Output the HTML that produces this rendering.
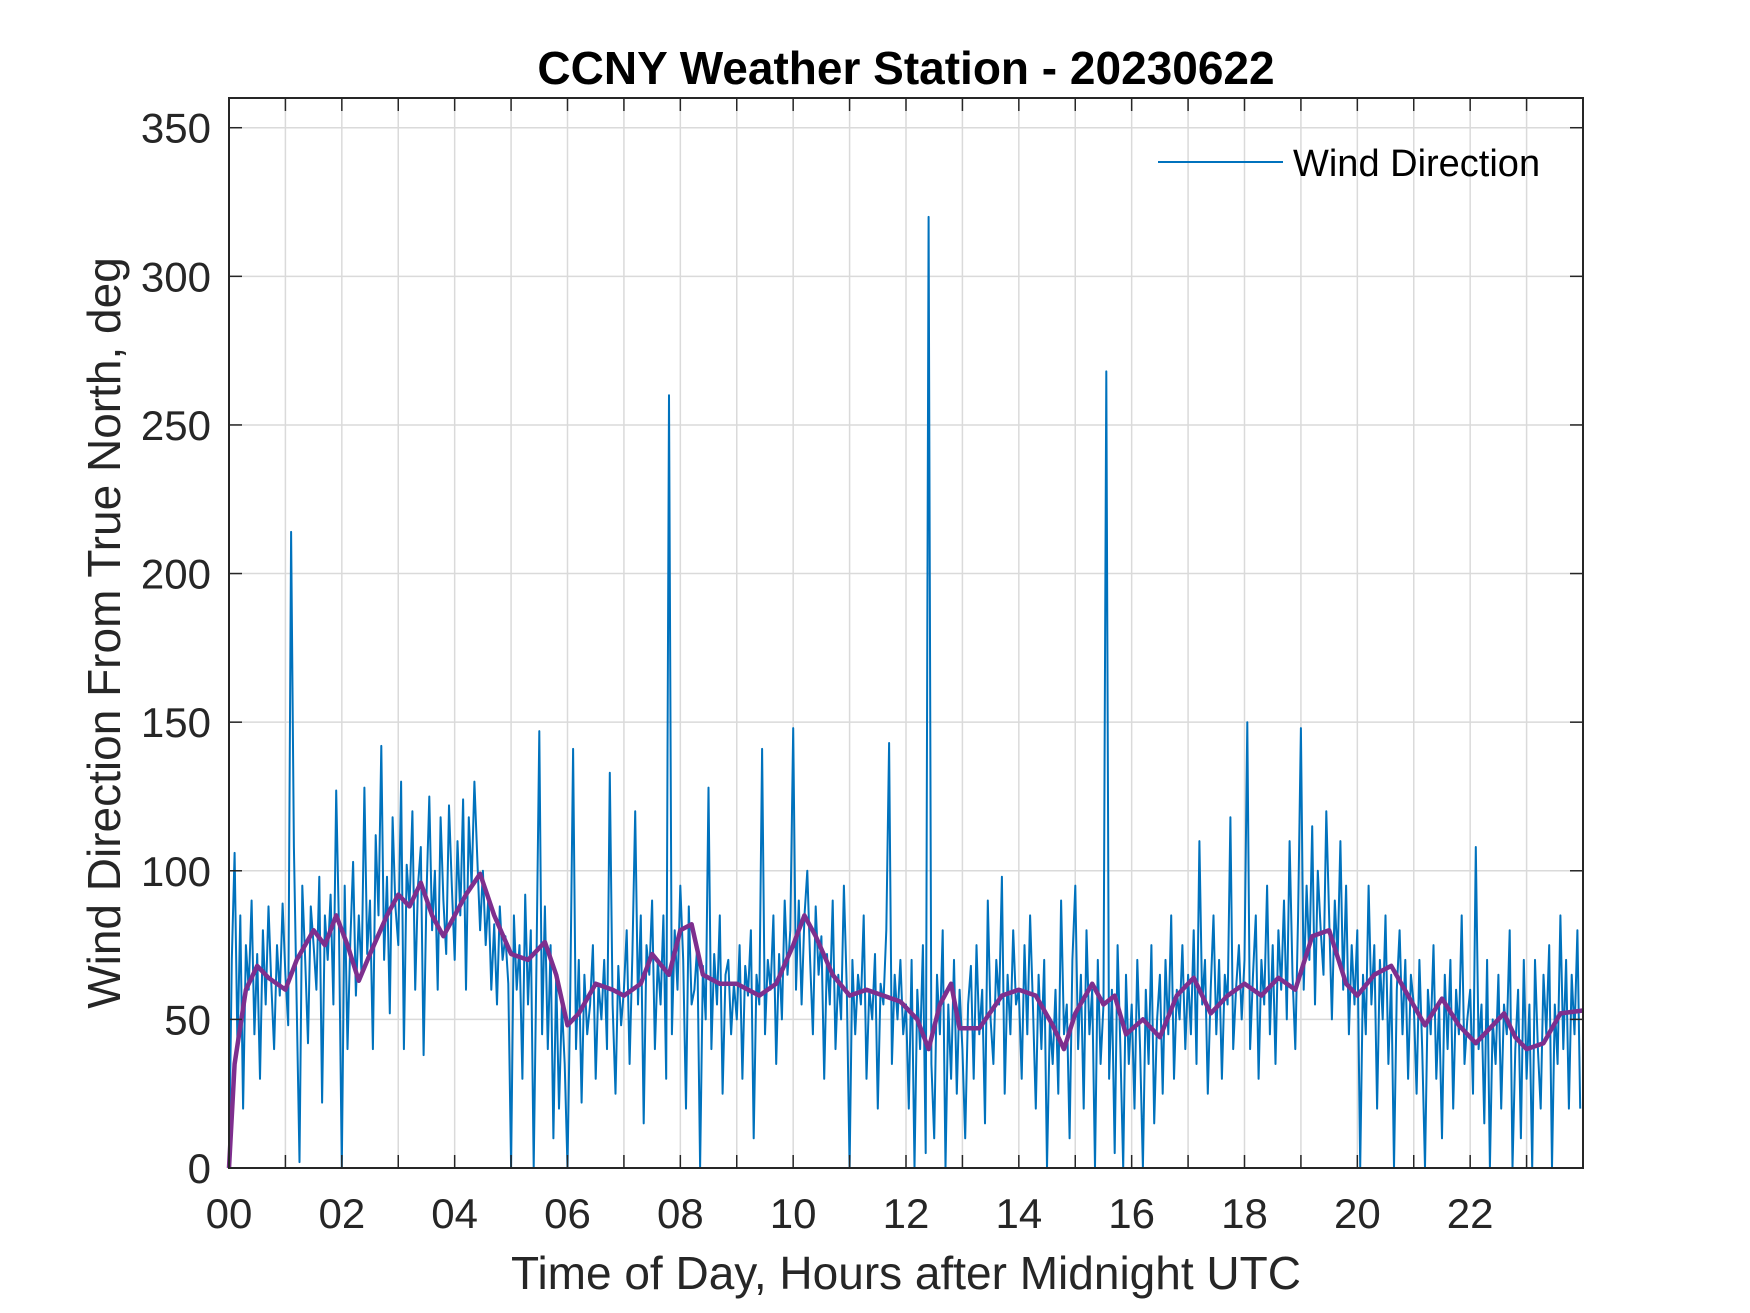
<!DOCTYPE html>
<html><head><meta charset="utf-8"><style>
body{margin:0;background:#fff;}
svg{display:block;font-family:"Liberation Sans",Arial,sans-serif;}
</style></head><body>
<svg id="chart" width="1750" height="1313" viewBox="0 0 1750 1313" xmlns="http://www.w3.org/2000/svg">
<rect width="1750" height="1313" fill="#fff"/>
<g id="grid"></g>
<g id="series"></g>
<g id="axes"></g>
<text x="906" y="84" text-anchor="middle" font-size="46" font-weight="bold" fill="#000">CCNY Weather Station - 20230622</text>
<text x="906" y="1289" text-anchor="middle" font-size="46" fill="#262626">Time of Day, Hours after Midnight UTC</text>
<text transform="translate(120,633) rotate(-90)" text-anchor="middle" font-size="46" fill="#262626">Wind Direction From True North, deg</text>
<g>
<line x1="1158" y1="162" x2="1283" y2="162" stroke="#0072BD" stroke-width="2"/>
<text x="1293" y="176" font-size="38" fill="#000">Wind Direction</text>
</g>
</svg>
<script>
const xTicks=[0,2,4,6,8,10,12,14,16,18,20,22];
const xTickLabels=["00","02","04","06","08","10","12","14","16","18","20","22"];
const yTicks=[0,50,100,150,200,250,300,350];
const windStepHours=0.05;
const windValues=[
0,70,106,40,85,20,75,60,90,45,72,30,80,55,88,62,40,75,58,89,
65,48,214,108,55,2,95,70,42,88,75,60,98,22,85,70,92,55,127,80,
0,95,40,76,103,58,85,65,128,72,90,40,112,85,142,70,98,52,118,88,
75,130,40,102,88,120,60,95,108,38,92,125,80,100,60,118,90,72,122,95,
70,110,85,124,60,118,95,130,105,80,100,75,92,60,82,55,88,70,78,62,
0,85,60,75,30,92,55,80,0,70,147,45,88,40,75,10,65,20,55,35,
0,60,141,40,70,22,65,45,55,75,30,62,50,70,40,133,55,25,68,48,
60,80,35,72,120,55,85,15,75,65,90,40,70,55,85,30,260,45,80,60,
95,70,20,88,55,60,75,0,68,50,128,40,72,55,85,25,65,70,45,62,
50,75,30,68,58,80,10,65,55,141,45,70,60,85,35,72,50,90,65,80,
148,60,90,55,85,100,70,45,88,65,78,30,72,55,90,40,65,50,95,60,
0,70,45,65,55,85,30,60,50,72,20,62,55,80,143,35,65,50,70,45,
55,20,70,0,60,40,75,5,320,35,10,65,45,80,0,55,30,70,25,60,
40,10,55,68,30,75,45,60,15,90,50,35,70,55,98,25,65,45,80,55,
60,30,75,45,85,55,20,65,40,70,0,50,35,60,25,90,45,55,10,70,
95,40,65,20,80,45,60,0,70,35,55,268,30,60,5,75,40,0,65,35,
55,20,70,40,0,60,35,75,15,50,65,25,70,45,85,30,60,50,75,40,
65,45,80,35,110,55,70,25,60,85,45,70,30,65,55,118,40,60,75,50,
70,150,40,65,85,30,70,55,95,45,75,35,80,60,90,50,110,65,40,85,
148,60,95,70,115,55,100,80,65,120,85,50,90,70,110,60,95,45,75,55,
80,0,65,45,95,55,75,20,70,50,85,35,65,0,60,80,45,70,30,65,
55,25,70,40,0,60,45,75,30,55,10,65,40,70,20,60,45,85,35,50,
60,25,108,40,55,15,70,0,50,35,65,20,55,45,80,0,40,60,10,70,
30,55,0,70,40,20,65,45,75,0,55,35,85,40,70,20,65,45,80,20];
const avgHours=[0,0.1,0.3,0.5,0.7,1.0,1.2,1.5,1.7,1.9,2.1,2.3,2.5,2.8,3.0,3.2,3.4,3.6,3.8,4.0,4.2,4.45,4.7,5.0,5.3,5.6,5.8,6.0,6.2,6.5,6.8,7.0,7.3,7.5,7.8,8.0,8.2,8.4,8.7,9.0,9.4,9.7,10.0,10.2,10.4,10.7,11.0,11.3,11.6,11.9,12.2,12.4,12.6,12.8,12.95,13.3,13.7,14.0,14.3,14.6,14.8,15.0,15.3,15.5,15.7,15.9,16.2,16.5,16.8,17.1,17.4,17.7,18.0,18.3,18.6,18.9,19.2,19.5,19.8,20.0,20.3,20.6,20.9,21.2,21.5,21.8,22.1,22.4,22.6,22.8,23.0,23.3,23.6,24];
const avgValues=[0,35,60,68,64,60,70,80,75,85,75,63,72,85,92,88,96,85,78,85,92,99,85,72,70,76,65,48,52,62,60,58,62,72,65,80,82,65,62,62,58,62,75,85,78,65,58,60,58,56,50,40,55,62,47,47,58,60,58,48,40,52,62,55,58,45,50,44,58,64,52,58,62,58,64,60,78,80,62,58,65,68,58,48,57,48,42,48,52,44,40,42,52,53];

const L=229,R=1583,T=98,B=1168,XMAX=24,YMAX=360;
const xs=h=>L+(h/XMAX)*(R-L);
const ys=v=>B-(v/YMAX)*(B-T);
const NS="http://www.w3.org/2000/svg";
function mk(tag,attrs,parent){const e=document.createElementNS(NS,tag);for(const k in attrs)e.setAttribute(k,attrs[k]);parent.appendChild(e);return e;}
const grid=document.getElementById('grid'),axes=document.getElementById('axes'),series=document.getElementById('series');
for(let h=1;h<24;h++){const l=mk('line',{x1:xs(h),x2:xs(h),y1:T,y2:B,stroke:'#dadada','stroke-width':1.5},grid);


const t1=mk('line',{x1:xs(h),x2:xs(h),y1:B,y2:B-13,stroke:'#262626','stroke-width':1.5},axes);


const t2=mk('line',{x1:xs(h),x2:xs(h),y1:T,y2:T+13,stroke:'#262626','stroke-width':1.5},axes);

}
yTicks.forEach(v=>{const y=ys(v);
if(v>0){const g=mk('line',{x1:L,x2:R,y1:y,y2:y,stroke:'#dadada','stroke-width':1.5},grid);

}
const t1=mk('line',{x1:L,x2:L+13,y1:y,y2:y,stroke:'#262626','stroke-width':1.5},axes);


const t2=mk('line',{x1:R,x2:R-13,y1:y,y2:y,stroke:'#262626','stroke-width':1.5},axes);


const tx=mk('text',{x:L-18,y:y+15,'text-anchor':'end','font-size':42,fill:'#262626'},axes);tx.textContent=v;

});
xTicks.forEach((h,i)=>{const tx=mk('text',{x:xs(h),y:1228,'text-anchor':'middle','font-size':42,fill:'#262626'},axes);tx.textContent=xTickLabels[i];

});
const box=mk('rect',{x:L,y:T,width:R-L,height:B-T,fill:'none',stroke:'#262626','stroke-width':2},axes);


const wp=windValues.map((v,i)=>xs(i*windStepHours).toFixed(1)+','+ys(v).toFixed(1)).join(' ');
const wl=mk('polyline',{points:wp,fill:'none',stroke:'#0072BD','stroke-width':2,'stroke-linejoin':'round'},series);


const ap=avgValues.map((v,i)=>xs(avgHours[i]).toFixed(1)+','+ys(v).toFixed(1)).join(' ');
const al=mk('polyline',{points:ap,fill:'none',stroke:'#7E2F8E','stroke-width':4.5,'stroke-linejoin':'round'},series);


</script>
</body></html>
